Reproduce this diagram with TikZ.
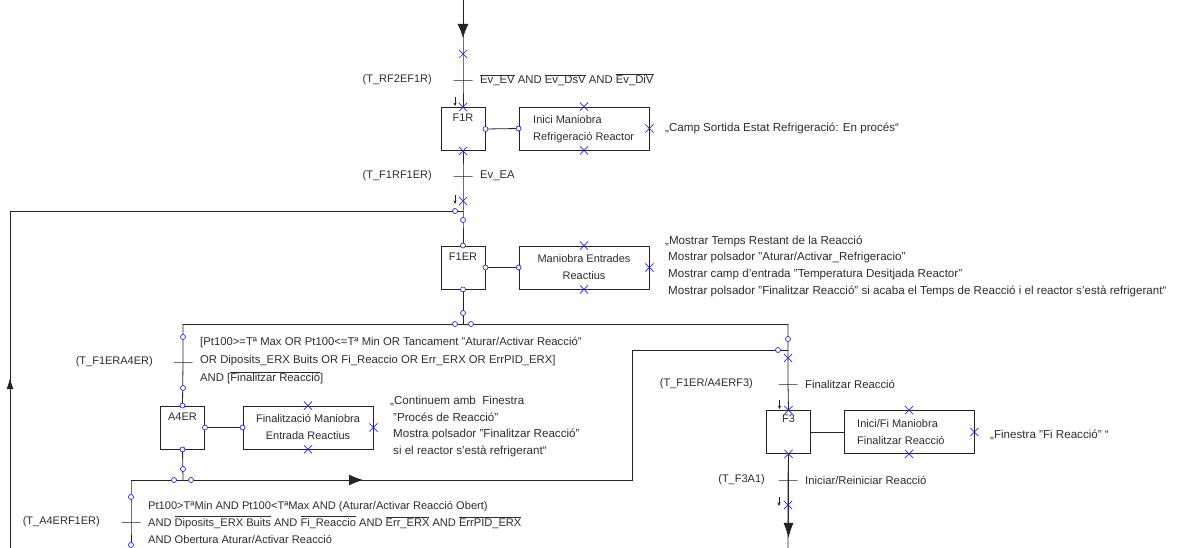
\documentclass[tikz,border=0pt]{standalone}
\usepackage{fontspec}
\setmainfont{Liberation Sans}
\usetikzlibrary{arrows.meta,shapes.misc,calc}
\definecolor{mk}{RGB}{40,40,240}
\definecolor{ln}{RGB}{35,35,35}
\definecolor{tx}{RGB}{45,45,45}
\newcommand\ovl[1]{$\overline{\hbox{#1}}$}
\newcommand\lsp{\hspace*{3pt}}
\begin{document}
\begin{tikzpicture}[x=1pt,y=-1pt,
  every node/.style={font=\fontsize{11}{17}\selectfont, text=tx},
  wire/.style={draw=ln, line width=0.8pt},
  stepbox/.style={draw=ln, line width=0.9pt, minimum width=44pt, minimum height=43pt, inner sep=0pt},
  actbox/.style={draw=ln, line width=0.9pt, minimum width=130pt, minimum height=43pt, inner sep=0pt},
  steplbl/.style={anchor=north, inner sep=0pt, yshift=-7pt},
  trbar/.style={draw=ln, line width=0.8pt, minimum width=19pt, minimum height=0pt, inner sep=0pt, rectangle},
  trname/.style={anchor=east, inner sep=0pt},
  trcond/.style={anchor=west, inner sep=0pt, align=left, font=\fontsize{11.3}{18}\selectfont},
  note/.style={anchor=west, inner sep=0pt, align=left, font=\fontsize{11.6}{16.7}\selectfont},
  xmk/.style={cross out, draw=mk, line width=0.7pt, minimum size=7.5pt, inner sep=0pt},
  omk/.style={circle, draw=mk, fill=white, line width=0.7pt, minimum size=5pt, inner sep=0pt},
  bigtip/.style={-{Latex[length=14pt,width=11pt]}},
  ticktip/.style={-{Stealth[length=3.5pt,width=3pt]}, draw=ln, line width=0.6pt}
]
\useasboundingbox (0,0) rectangle (1180,548);
\fill[white] (0,0) rectangle (1180,548);

% ---- steps and actions
\node[stepbox] (F1R) at (463,129) {};
\node[steplbl] at (F1R.north) {F1R};
\node[actbox] (A1) at (584,128.5) {};
\node[anchor=west, align=left, inner sep=0pt] (A1t) at (533,129) {Inici Maniobra\\Refrigeració Reactor};

\node[stepbox] (F1ER) at (463,267.5) {};
\node[steplbl] at (F1ER.north) {F1ER};
\node[actbox, align=center] (A2) at (584,267.5) {Maniobra Entrades\\Reactius};

\node[stepbox] (A4ER) at (182.5,427.5) {};
\node[steplbl] at (A4ER.north) {A4ER};
\node[actbox, align=center] (A4) at (308,427.5) {Finalització Maniobra\\Entrada Reactius};

\node[stepbox] (F3) at (788.5,432) {};
\node[steplbl, yshift=2pt] at (F3.north) {F3};
\node[actbox] (A3) at (909,432) {};
\node[anchor=west, align=left, inner sep=0pt] (A3t) at (857,432.5) {Inici/Fi Maniobra\\Finalitzar Reacció};

% ---- coordinates
\coordinate (top) at (463,0);
\coordinate (t1) at (463,80);
\coordinate (t2) at (463,176);
\coordinate (x1) at (463,201);
\coordinate (j1) at (463,211);
\coordinate (j2) at (463,324);
\coordinate (jl) at (183,324);
\coordinate (jr) at (788,324);
\coordinate (tA) at (183,362);
\coordinate (j4) at (183,480);
\coordinate (c5) at (131,480);
\coordinate (tB) at (131,522);
\coordinate (bot5) at (131,548);
\coordinate (c4) at (632,480);
\coordinate (c3) at (632,350);
\coordinate (j3) at (788,350);
\coordinate (tC) at (788,384);
\coordinate (tD) at (788,480);
\coordinate (x2) at (788,505);
\coordinate (botF3) at (788,548);
\coordinate (lout) at (10,548);
\coordinate (lout2) at (10,211);

% ---- connectors
\draw[wire] (top) -- (t1) -- (F1R.north);
\draw[wire] (F1R.south) -- (t2) -- (j1) -- (F1ER.north);
\draw[wire] (F1ER.south) -- (j2);
\draw[wire] (jl) -- (jr);
\draw[wire] (jl) -- (tA) -- (A4ER.north);
\draw[wire] (A4ER.south) -- (j4);
\draw[wire] (c5) -- (c4) -- (c3) -- (j3);
\draw[wire] (c5) -- (tB) -- (bot5);
\draw[wire] (jr) -- (tC) -- (F3.north);
\draw[wire] (F3.south) -- (tD) -- (botF3);
\draw[wire] (lout) -- (lout2) -- (j1);
\draw[wire] (F1R.east) -- (A1.west);
\draw[wire] (F1ER.east) -- (A2.west);
\draw[wire] (A4ER.east) -- (A4.west);
\draw[wire] (F3.east) -- (A3.west);

% big arrow tips
\draw[wire, bigtip] (top) -- ($(top)+(0,38)$);
\draw[wire, -{Latex[length=15pt,width=10pt]}] (F3.south) -- ($(F3.south)+(0,84)$);
\draw[wire, -{Latex[length=14pt,width=11pt]}] (c5) -- ($(c5)+(232,0)$);
\draw[wire, -{Latex[length=11pt,width=7pt]}] (lout) -- ($(lout)+(0,-170)$);

% small tick arrows
\draw[ticktip] ([xshift=-8pt,yshift=10pt]F1R.north) -- ([xshift=-8pt,yshift=1pt]F1R.north);
\draw[ticktip] ([xshift=-8pt,yshift=6pt]x1) -- ([xshift=-8pt,yshift=-3pt]x1);
\draw[ticktip] ([xshift=-9pt,yshift=10pt]F3.north) -- ([xshift=-9pt,yshift=1pt]F3.north);
\draw[ticktip] ([xshift=-9pt,yshift=8pt]x2) -- ([xshift=-9pt,yshift=-1pt]x2);

% ---- transition bars
\node[trbar] (b1) at (t1) {};
\node[trbar] (b2) at (t2) {};
\node[trbar] (bA) at (tA) {};
\node[trbar] (bB) at (tB) {};
\node[trbar] (bC) at (tC) {};
\node[trbar] (bD) at (tD) {};

\node[trname] at (432,80) {(T\_RF2EF1R)};
\node[trname] at (432,176) {(T\_F1RF1ER)};
\node[trname] at (153,362) {(T\_F1ERA4ER)};
\node[trname] at (100,522) {(T\_A4ERF1ER)};
\node[trname] at (753,384) {(T\_F1ER/A4ERF3)};
\node[trname] at (765,480) {(T\_F3A1)};

\node[trcond] at (480,80) {\ovl{Ev\_EV} AND \ovl{Ev\_DsV} AND \ovl{Ev\_DiV}};
\node[trcond] at (480,176) {Ev\_EA};
\node[trcond] at (200,361) {[Pt100>=Tª Max OR Pt100<=Tª Min OR Tancament "Aturar/Activar Reacció"\\OR Diposits\_ERX Buits OR Fi\_Reaccio OR Err\_ERX OR ErrPID\_ERX]\\AND [\ovl{Finalitzar Reacció}]};
\node[trcond, font=\fontsize{11.1}{17}\selectfont] at (148,522) {Pt100>TªMin AND Pt100<TªMax AND (Aturar/Activar Reacció Obert)\\AND \ovl{Diposits\_ERX Buits} AND \ovl{Fi\_Reaccio} AND \ovl{Err\_ERX} AND \ovl{ErrPID\_ERX}\\AND Obertura Aturar/Activar Reacció};
\node[trcond] at (805,384) {Finalitzar Reacció};
\node[trcond] at (805,480) {Iniciar/Reiniciar Reacció};

% ---- action notes
\node[note] at (665,128) {„Camp Sortida Estat Refrigeració: En procés“};
\node[note] at (665,266) {„Mostrar Temps Restant de la Reacció\\\lsp Mostrar polsador "Aturar/Activar\_Refrigeracio"\\\lsp Mostrar camp d'entrada "Temperatura Desitjada Reactor"\\\lsp Mostrar polsador "Finalitzar Reacció" si acaba el Temps de Reacció i el reactor s'està refrigerant“};
\node[note] at (390,426.5) {„Continuem amb\ \ Finestra\\\lsp"Procés de Reacció"\\\lsp Mostra polsador "Finalitzar Reacció"\\\lsp si el reactor s'està refrigerant“};
\node[note] at (990,435) {„Finestra "Fi Reacció" “};

% ---- blue markers
\foreach \p in {(463,54), (F1R.north), (F1R.south), (A1.north), (A1.south), (A1.east),
  (x1), (A2.north), (A2.south), (A2.east), (788,358), (F3.north), (F3.south),
  (A3.north), (A3.south), (A3.east), (x2), (A4.north), (A4.south), (A4.east)}
  \node[xmk] at \p {};
\foreach \p in {(F1R.east), (A1.west), (455,211), (463,220), (F1ER.north), (F1ER.east),
  (A2.west), (F1ER.south), (463,313), (455,324), (471,324), (183,337), (788,339),
  (778,350), (183,388), (A4ER.north), (A4ER.east), (A4.west), (A4ER.south),
  (183,469), (174,480), (191,480), (131,497), (131,545)}
  \node[omk] at \p {};
\end{tikzpicture}
\end{document}
